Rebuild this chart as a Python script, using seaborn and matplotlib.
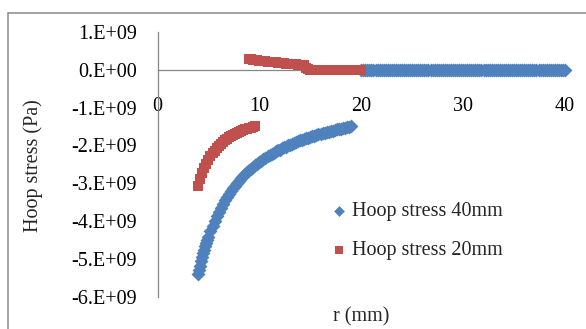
import numpy as np
import pandas as pd
import matplotlib
matplotlib.use("Agg")
import matplotlib.pyplot as plt
from matplotlib.lines import Line2D
from matplotlib.ticker import FuncFormatter, MultipleLocator
import seaborn as sns

# Hoop stress in units of 1e9 Pa
# 40 mm cylinder (finer radial steps near the bore)
r40_inner = np.round(np.concatenate([np.arange(4.0, 4.95, 0.1),
                                     np.arange(5.0, 19.01, 0.2)]), 1)
hoop40_inner = [
    -5.40, -5.28, -5.17, -5.06, -4.95, -4.85, -4.76, -4.66, -4.58, -4.49,
    -4.41, -4.26, -4.12, -3.99, -3.87,
    -3.75, -3.65, -3.55, -3.45, -3.37, -3.28, -3.20, -3.13, -3.06, -2.99,
    -2.93, -2.87, -2.81, -2.76, -2.71, -2.66, -2.61, -2.56, -2.52, -2.48,
    -2.44, -2.40, -2.36, -2.32, -2.29, -2.26, -2.22, -2.19, -2.16, -2.13,
    -2.11, -2.08, -2.05, -2.03, -2.00, -1.98, -1.96, -1.93, -1.91, -1.89,
    -1.87, -1.85, -1.83, -1.81, -1.80, -1.78, -1.76, -1.74, -1.73, -1.71,
    -1.70, -1.68, -1.66, -1.65, -1.64, -1.62, -1.61, -1.60, -1.58, -1.57,
    -1.56, -1.55, -1.53, -1.52, -1.51, -1.50,
]
r40_outer = np.round(np.arange(20.0, 40.01, 0.2), 1)
hoop40_outer = [0.0] * len(r40_outer)

# 20 mm cylinder
r20_inner = np.round(np.arange(4.0, 9.61, 0.2), 1)
hoop20_inner = [
    -3.06, -2.89, -2.74, -2.60, -2.49, -2.38, -2.29, -2.21, -2.14, -2.07,
    -2.01, -1.96, -1.91, -1.87, -1.83, -1.79, -1.75, -1.72, -1.70, -1.67,
    -1.64, -1.62, -1.60, -1.58, -1.56, -1.54, -1.53, -1.51, -1.50,
]
r20_outer = np.round(np.arange(9.0, 20.01, 0.2), 1)
hoop20_outer = [
    0.28, 0.27, 0.26, 0.26, 0.25, 0.24, 0.23, 0.23, 0.22, 0.21,
    0.21, 0.20, 0.20, 0.19, 0.18, 0.18, 0.17, 0.17, 0.16, 0.16,
    0.15, 0.15, 0.14, 0.14, 0.13, 0.13, 0.12, 0.12, 0.03, 0.01,
    0.0, 0.0, 0.0, 0.0, 0.0, 0.0, 0.0, 0.0, 0.0, 0.0,
    0.0, 0.0, 0.0, 0.0, 0.0, 0.0, 0.0, 0.0, 0.0, 0.0,
    0.0, 0.0, 0.0, 0.0, 0.0, 0.0,
]

label40 = "Hoop stress 40mm"
label20 = "Hoop stress 20mm"

df40 = pd.DataFrame({
    "r": np.concatenate([r40_inner, r40_outer]),
    "stress": np.concatenate([hoop40_inner, hoop40_outer]) * 1e9,
    "series": label40,
})
df20 = pd.DataFrame({
    "r": np.concatenate([r20_inner, r20_outer]),
    "stress": np.concatenate([hoop20_inner, hoop20_outer]) * 1e9,
    "series": label20,
})

sns.set_style("white")
plt.rcParams["font.family"] = ["Liberation Serif", "DejaVu Serif"]

W, H = 586, 329
fig = plt.figure(figsize=(W / 100, H / 100), dpi=100)

x0, x1 = 157.5, 565.0
y_top, y_bot = 31.7, 297.0
ax = fig.add_axes([x0 / W, (H - y_bot) / H, (x1 - x0) / W, (y_bot - y_top) / H])

blue = "#4F81BD"
red = "#C0504D"

sns.scatterplot(data=df40, x="r", y="stress", marker="D", s=50, color=blue,
                linewidth=0, ax=ax, label=label40, clip_on=False, zorder=3)
sns.scatterplot(data=df20, x="r", y="stress", marker="s", s=52, color=red,
                linewidth=0, ax=ax, label=label20, clip_on=False, zorder=4)

ax.set_xlim(0, 40)
ax.set_ylim(-6e9, 1e9)
ax.xaxis.set_major_locator(MultipleLocator(10))
ax.yaxis.set_major_locator(MultipleLocator(1e9))


def sci_fmt(v, pos):
    n = int(round(v / 1e9))
    return "0.E+00" if n == 0 else f"{n}.E+09"


ax.yaxis.set_major_formatter(FuncFormatter(sci_fmt))

axis_grey = "#868686"
for side in ("top", "right"):
    ax.spines[side].set_visible(False)
ax.spines["bottom"].set_position(("data", 0))
for side in ("left", "bottom"):
    ax.spines[side].set_color(axis_grey)
    ax.spines[side].set_linewidth(0.9)

ax.tick_params(axis="x", length=0, pad=20, labelsize=14.5, colors="#000000")
ax.tick_params(axis="y", length=0, pad=15, labelsize=14.5, colors="#000000")
for lab in ax.get_xticklabels():
    lab.set_zorder(5)

ax.set_xlabel("r (mm)", fontsize=14.5)
ax.xaxis.set_label_coords(0.5, -0.04)
ax.set_ylabel("Hoop stress (Pa)", fontsize=14.5)
ax.yaxis.set_label_coords(-0.281, 0.494)
ax.patch.set_visible(False)

leg = ax.legend(loc="upper left", bbox_to_anchor=(323 / W, 1 - 192 / H),
                bbox_transform=fig.transFigure, frameon=False, fontsize=14.5,
                borderpad=0, handlelength=0.6, handletextpad=0.35,
                labelspacing=1.0)
for h in leg.legend_handles:
    h.set_sizes([30])

# chart frame (left and top edges)
fig.add_artist(Line2D([7.5 / W, 7.5 / W], [0, 1 - 12.8 / H], transform=fig.transFigure,
                      color="#8a8a8a", linewidth=1.1))
fig.add_artist(Line2D([7.5 / W, 1.0], [1 - 12.8 / H, 1 - 12.8 / H], transform=fig.transFigure,
                      color="#8a8a8a", linewidth=1.1))

fig.savefig("out.png", dpi=100)
